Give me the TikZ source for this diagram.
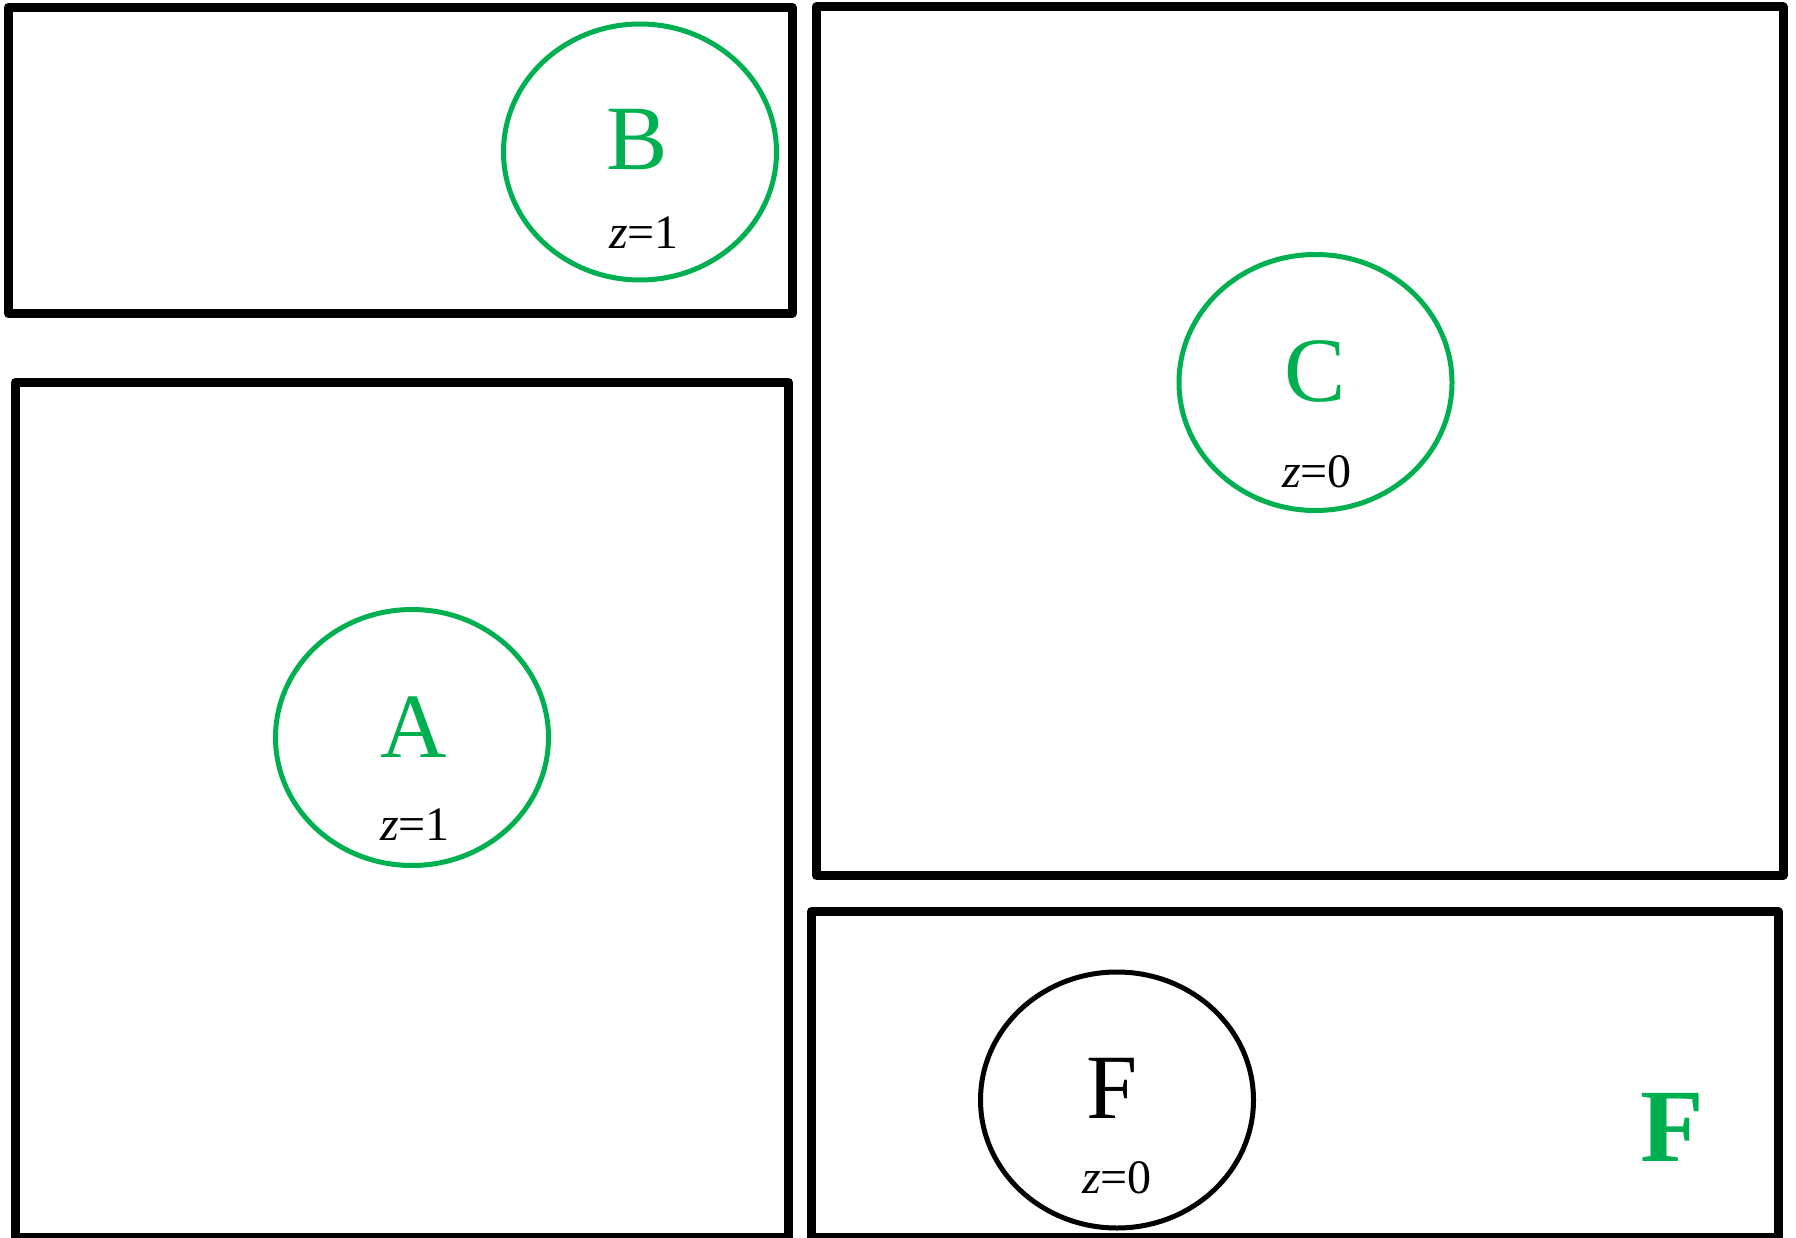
\documentclass[tikz,border=0pt]{standalone}
\usepackage{fontspec}
\setmainfont{Liberation Serif}
\usetikzlibrary{shapes.geometric}
\definecolor{wgreen}{RGB}{0,176,80}
\begin{document}
\begin{tikzpicture}[x=1pt,y=-1pt,
  box/.style={draw=black,line width=9pt,line join=round},
  oval/.style={ellipse,draw,line width=5pt,minimum width=273pt,minimum height=256pt,inner sep=0pt},
  big/.style={font=\fontsize{92}{92}\selectfont,anchor=base,inner sep=0pt},
  zlab/.style={font=\fontsize{48}{48}\selectfont,anchor=base,inner sep=0pt,text=black}]
\useasboundingbox (0,0) rectangle (1796,1238);
\clip (0,0) rectangle (1796,1238);
% boxes
\draw[box] (8.5,7.5) rectangle (792,313.5);
\draw[box] (15.5,382.5) rectangle (788.5,1237.5);
\draw[box] (816.5,7) rectangle (1783,875.5);
\draw[box] (811.5,911.5) rectangle (1778,1237);
% ovals
\node[oval,draw=wgreen] (eB) at (640,152) {};
\node[oval,draw=wgreen] (eC) at (1315.5,382.5) {};
\node[oval,draw=wgreen] (eA) at (412,737.5) {};
\node[oval,draw=black] (eF) at (1117,1100) {};
% letters
\node[big,text=wgreen] (lB) at (637,170) {B};
\node[big,text=wgreen] (lA) at (413.5,757) {A};
\node[big,text=wgreen] (lC) at (1315,401) {C};
\node[big,text=black] (lF) at (1112,1118) {F};
% z labels
\node[zlab] (zB) at (644,249) {\textit{z}=1};
\node[zlab] (zA) at (415,840) {\textit{z}=1};
\node[zlab] (zC) at (1317,487) {\textit{z}=0};
\node[zlab] (zF) at (1117,1193) {\textit{z}=0};
% bold green F
\node[font=\fontsize{104}{104}\selectfont\bfseries,anchor=base,text=wgreen,inner sep=0pt] (gF) at (1672,1161) {F};
\end{tikzpicture}
\end{document}
